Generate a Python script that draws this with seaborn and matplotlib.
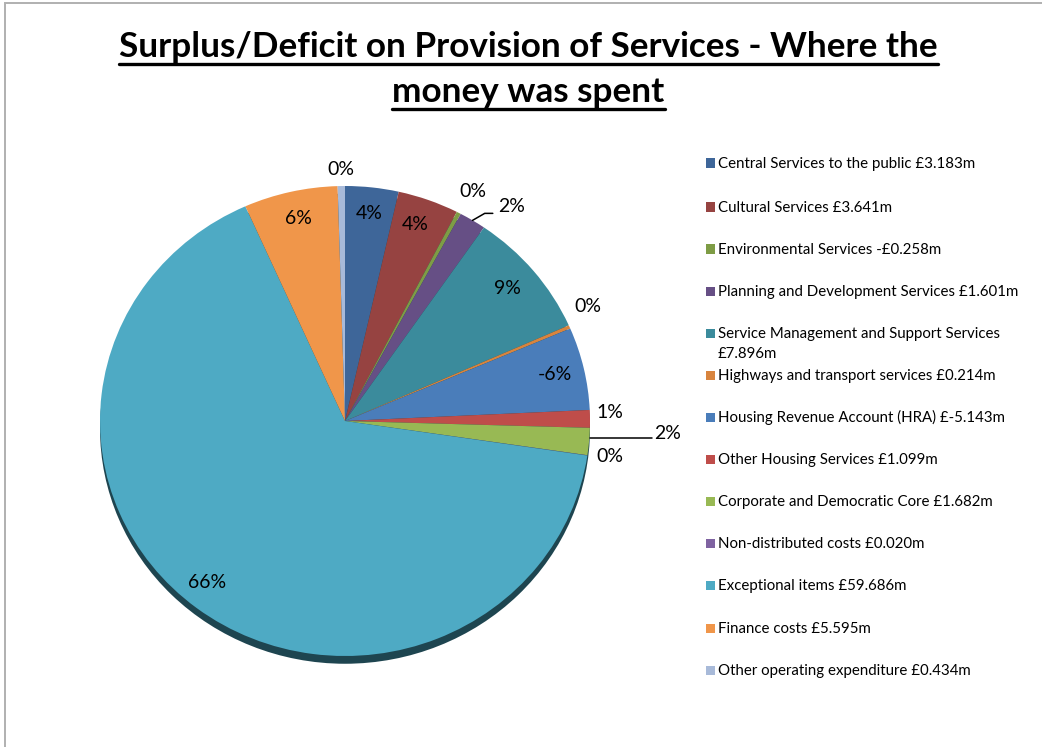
import numpy as np
import matplotlib
matplotlib.use("Agg")
import matplotlib.pyplot as plt
import seaborn as sns
from matplotlib.patches import Ellipse, Rectangle
from matplotlib.lines import Line2D

# ---- data -------------------------------------------------------------
services = [
    "Central Services to the public",
    "Cultural Services",
    "Environmental Services",
    "Planning and Development Services",
    "Service Management and Support Services",
    "Highways and transport services",
    "Housing Revenue Account (HRA)",
    "Other Housing Services",
    "Corporate and Democratic Core",
    "Non-distributed costs",
    "Exceptional items",
    "Finance costs",
    "Other operating expenditure",
]
amounts_m = [3.183, 3.641, -0.258, 1.601, 7.896, 0.214, -5.143,
             1.099, 1.682, 0.020, 59.686, 5.595, 0.434]
legend_labels = [
    "Central Services to the public £3.183m",
    "Cultural Services £3.641m",
    "Environmental Services -£0.258m",
    "Planning and Development Services £1.601m",
    "Service Management and Support Services\n£7.896m",
    "Highways and transport services £0.214m",
    "Housing Revenue Account (HRA) £-5.143m",
    "Other Housing Services £1.099m",
    "Corporate and Democratic Core £1.682m",
    "Non-distributed costs £0.020m",
    "Exceptional items £59.686m",
    "Finance costs £5.595m",
    "Other operating expenditure £0.434m",
]
title_lines = ["Surplus/Deficit on Provision of Services - Where the",
               "money was spent"]

# ---- styling ----------------------------------------------------------
colors = ["#3e6699", "#964341", "#7e9c45", "#664f85", "#3b8b9c", "#d8843e",
          "#4a7dba", "#bf4d4a", "#98b954", "#7f63a1", "#4eaac4", "#f0964a",
          "#a8bad9"]
# radial distance of each percentage label and small angular nudge (deg)
label_radius = [0.887, 0.883, 1.106, 1.138, 0.872, 1.105, 0.880,
                1.082, 1.319, 1.093, 0.888, 0.881, 1.072]
label_nudge = [0.0, 1.0, -0.5, -5.4, 0.6, 2.6, 0.2,
               1.3, 2.8, 0.4, -2.2, -0.3, 0.0]

sns.set_theme(style="white")
plt.rcParams["font.family"] = ["Lato", "DejaVu Sans"]

W, H = 1042, 747
fig = plt.figure(figsize=(W / 100, H / 100), dpi=100)
fig.patch.set_facecolor("white")

# chart-area frame
fig.add_artist(Rectangle((5 / W, -0.05), 1.2, 1 - 3 / H + 0.05,
                         transform=fig.transFigure, fill=False,
                         edgecolor="#b0b0b0", linewidth=1.4))

# ---- pie --------------------------------------------------------------
cx, cy, rx, ry = 345, 421, 245, 235
ax = fig.add_axes([(cx - rx) / W, (H - cy - ry) / H, 2 * rx / W, 2 * ry / H])
sizes = np.abs(amounts_m)
ax.add_patch(Ellipse((0, -0.033), 2, 2, facecolor="#1e4550",
                     edgecolor="none", zorder=0, clip_on=False))
wedges, _ = ax.pie(sizes, colors=colors, startangle=90, counterclock=False,
                   wedgeprops=dict(linewidth=0))
ax.set_aspect("auto")
ax.set_xlim(-1, 1)
ax.set_ylim(-1, 1)
ax.axis("off")

total = sizes.sum()
label_pos = []
for i, (w, amt) in enumerate(zip(wedges, amounts_m)):
    mid = np.deg2rad((w.theta1 + w.theta2) / 2 + label_nudge[i])
    r = label_radius[i]
    x, y = r * np.cos(mid), r * np.sin(mid)
    label_pos.append((x, y))
    pct = int(round(amt / total * 100))
    ax.text(x, y, f"{pct}%", ha="center", va="center", fontsize=14,
            color="black", clip_on=False)

# leader lines for the two labels pulled away from their slices
def edge_point(w):
    a = np.deg2rad((w.theta1 + w.theta2) / 2)
    return np.cos(a), np.sin(a)

# Planning and Development
ex, ey = edge_point(wedges[3])
lx, ly = label_pos[3]
ax.add_line(Line2D([ex, lx - 0.111, lx - 0.078], [ey, ly - 0.028, ly - 0.028],
                   color="black", linewidth=1.1, clip_on=False))
# Corporate and Democratic Core
ex, ey = edge_point(wedges[8])
lx, ly = label_pos[8]
ax.add_line(Line2D([ex + 0.005, lx - 0.065], [ey + 0.015, ey + 0.015],
                   color="black", linewidth=1.1, clip_on=False))

# ---- legend -----------------------------------------------------------
leg_y = [163, 207, 249, 291, 333, 375, 417, 459, 501, 543, 585, 628, 670]
for c, lab, y in zip(colors, legend_labels, leg_y):
    fig.add_artist(Rectangle((706 / W, 1 - (y + 4.5) / H), 9 / W, 9 / H,
                             transform=fig.transFigure, facecolor=c,
                             edgecolor="none"))
    fig.text(718 / W, 1 - (y + 5) / H, lab.split("\n")[0], ha="left",
             va="baseline", fontsize=10.8, color="black")
    if "\n" in lab:
        fig.text(718 / W, 1 - (y + 25) / H, lab.split("\n")[1], ha="left",
                 va="baseline", fontsize=10.8, color="black")

# ---- title (bold, underlined) ----------------------------------------
title_y = [57, 102]
title_texts = []
for line, y in zip(title_lines, title_y):
    t = fig.text(528.5 / W, 1 - y / H, line, ha="center", va="baseline",
                 fontsize=25.3, fontweight="bold", color="black")
    title_texts.append(t)

fig.canvas.draw()
renderer = fig.canvas.get_renderer()
for t, y in zip(title_texts, title_y):
    bb = t.get_window_extent(renderer)
    uy = 1 - (y + 7) / H
    fig.add_artist(Line2D([bb.x0 / W, bb.x1 / W], [uy, uy],
                          transform=fig.transFigure, color="black",
                          linewidth=2.4))

fig.savefig("out.png", dpi=100, facecolor="white")
